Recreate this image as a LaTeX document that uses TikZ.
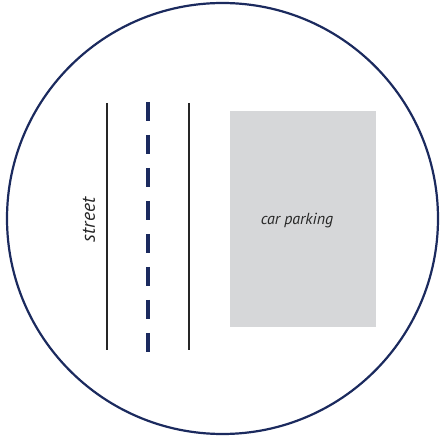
\documentclass[tikz,border=0pt]{standalone}
\usepackage{fontspec}
\setmainfont{PT Sans}
\definecolor{navy}{HTML}{1B2A5E}
\definecolor{lot}{HTML}{D6D7D9}
\begin{document}
\begin{tikzpicture}[x=1pt,y=-1pt,
  roadedge/.style={draw=black!85,line width=1.6pt},
  centerline/.style={draw=navy,line width=3.2pt,dash pattern=on 19pt off 14pt},
  lbl/.style={font=\itshape\fontsize{16}{18}\selectfont,text=black!85},
  streetlbl/.style={font=\itshape\fontsize{19.5}{22}\selectfont,text=black!85}]
\useasboundingbox (0,0) rectangle (445,438);
\node[circle,draw=navy,line width=2.2pt,minimum size=431pt,inner sep=0pt] (rim) at (222.5,218.5) {};
\coordinate (l1) at (107,103); \coordinate (l2) at (107,350);
\coordinate (m1) at (148,102); \coordinate (m2) at (148,352);
\coordinate (r1) at (189,103); \coordinate (r2) at (189,350);
\draw[roadedge] (l1) -- (l2);
\draw[centerline] (m1) -- (m2);
\draw[roadedge] (r1) -- (r2);
\node[streetlbl,rotate=90] (street) at (89,220) {street};
\node[fill=lot,minimum width=146pt,minimum height=216pt,inner sep=0pt] (park) at (303,219) {};
\node[lbl] (parklbl) at (297,221) {car parking};
\end{tikzpicture}
\end{document}
